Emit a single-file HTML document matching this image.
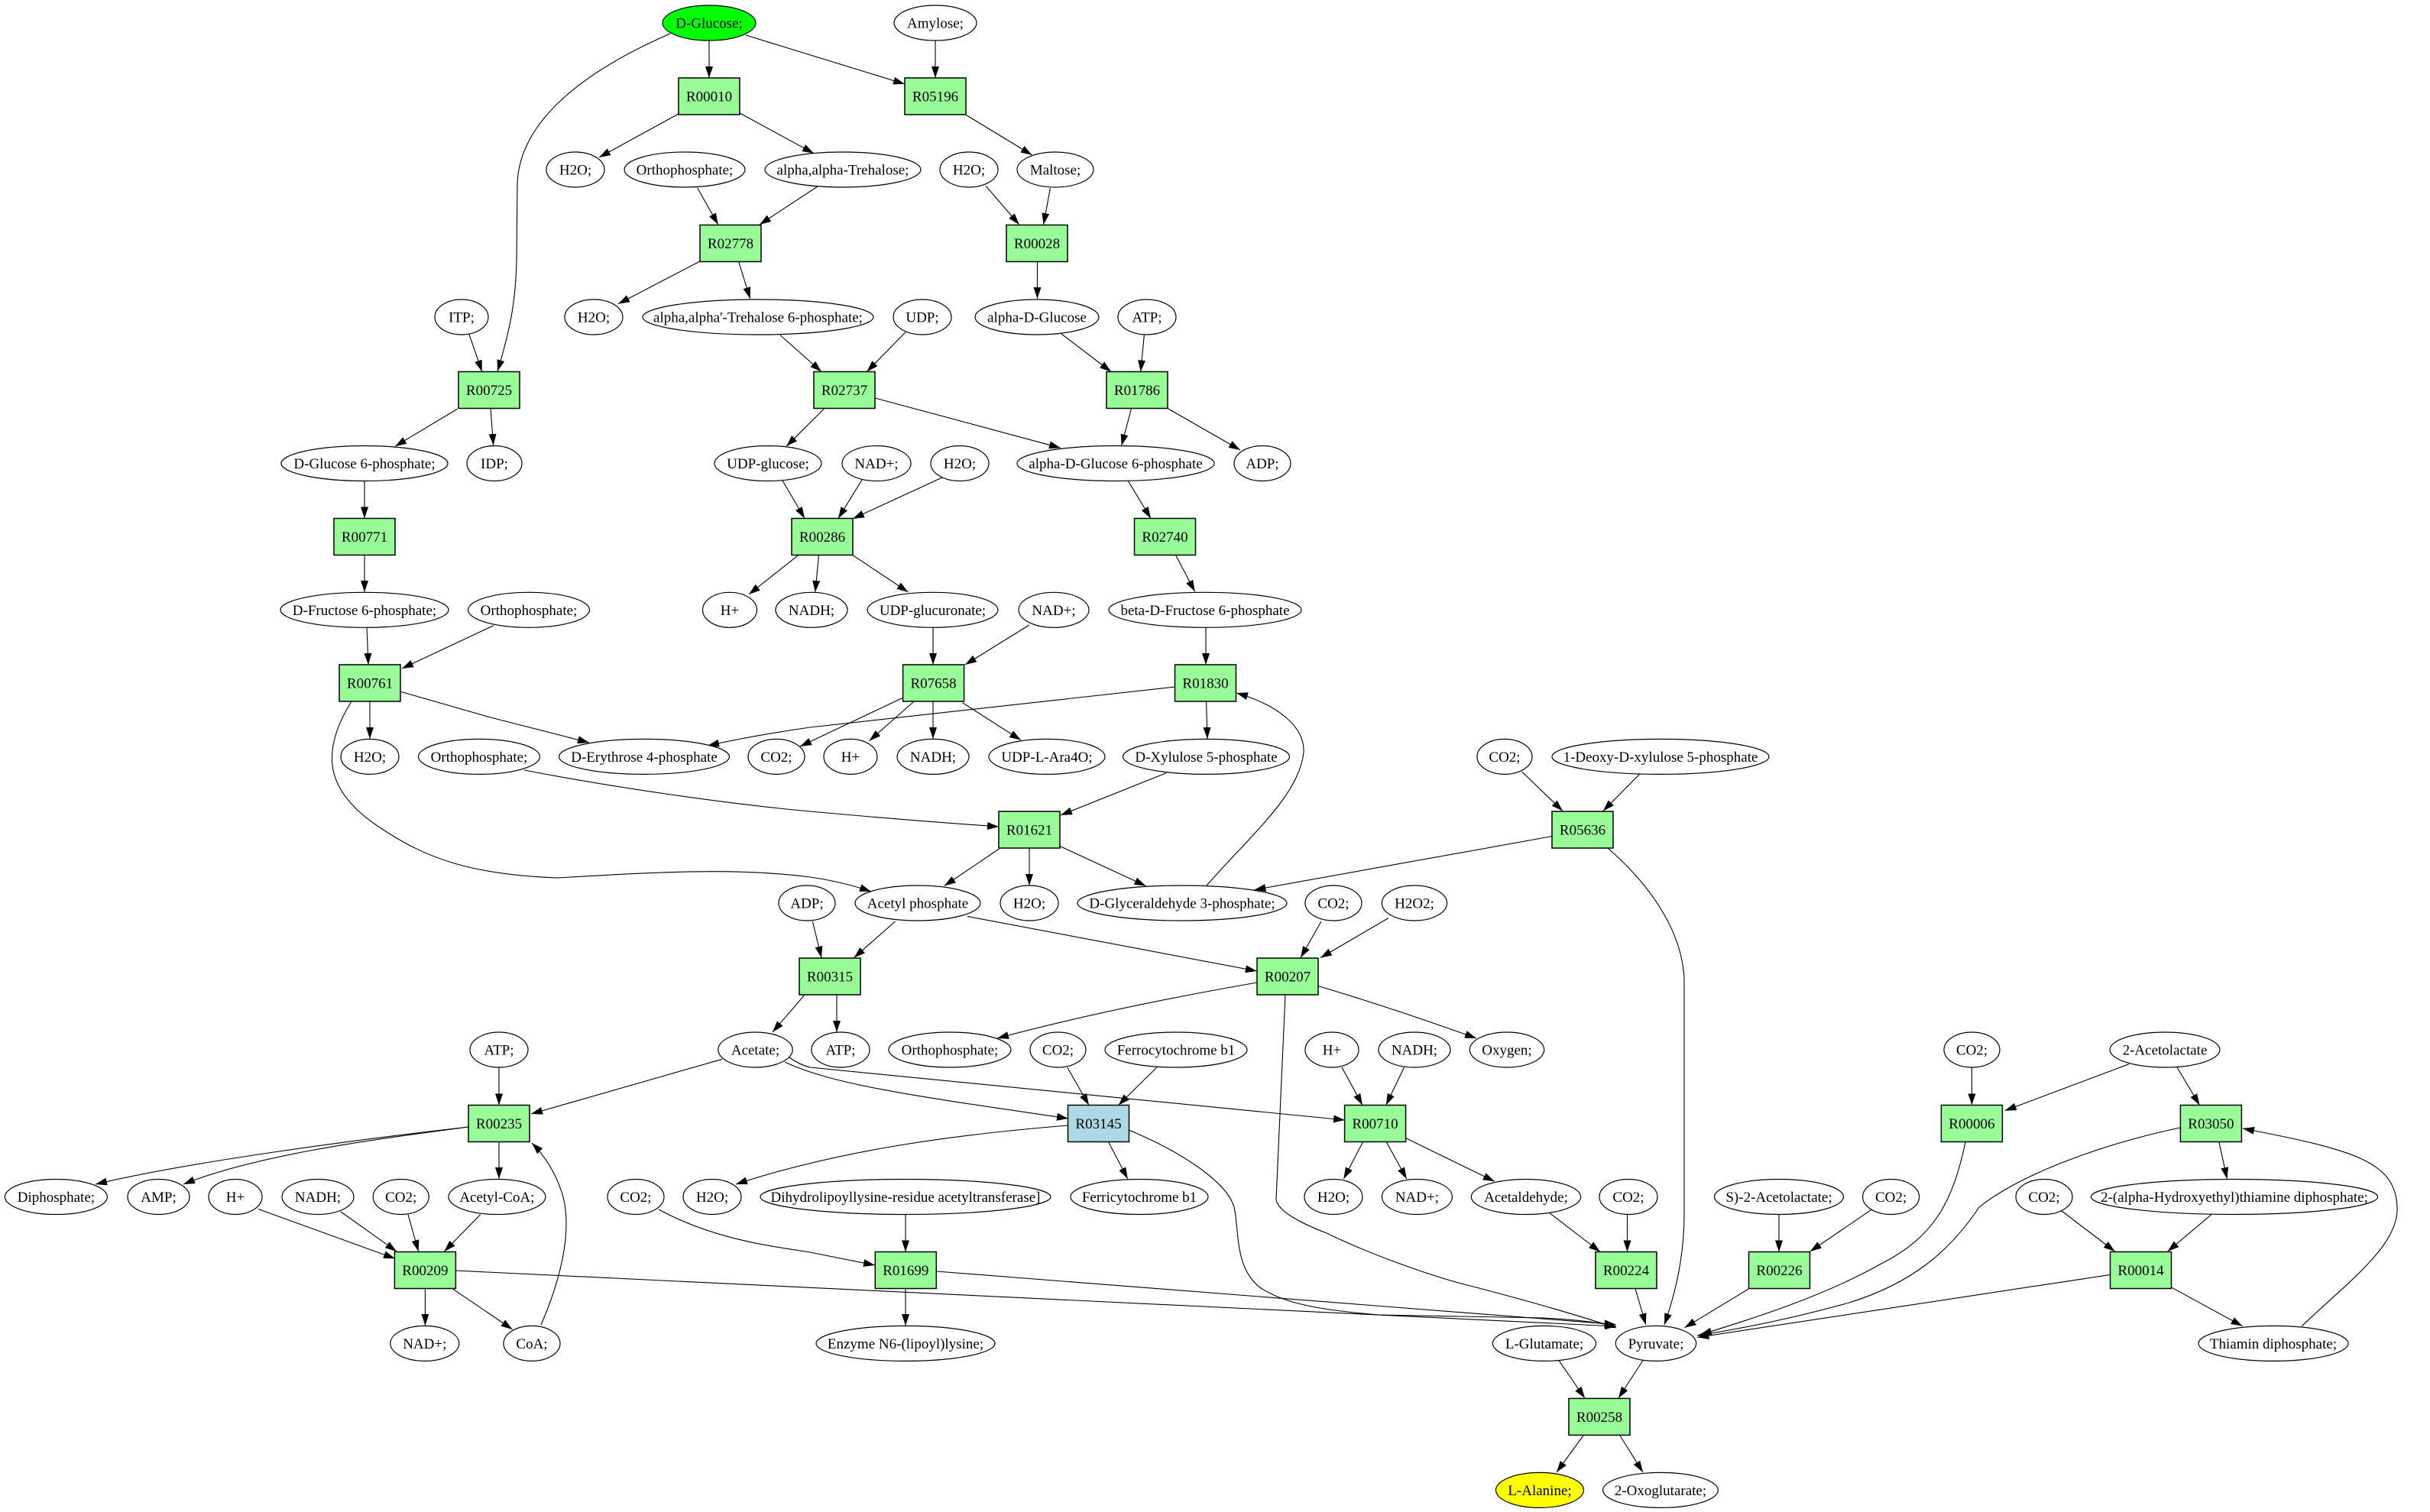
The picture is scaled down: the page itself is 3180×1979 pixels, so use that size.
<!DOCTYPE html>
<html><head><meta charset="utf-8"><style>
html,body{margin:0;padding:0;background:#fff;}
svg{display:block;}
.e{fill:none;stroke:#000;stroke-width:1.1;}
.n{fill:#fff;stroke:#000;stroke-width:1.2;}
.b{fill:#98fb98;stroke:#000;stroke-width:1.5;}
text{font-family:"Liberation Serif","Times New Roman",serif;font-size:19px;text-anchor:middle;fill:#000;}
</style></head><body>
<svg width="3180" height="1979" viewBox="0 0 3180 1979" xmlns="http://www.w3.org/2000/svg">
<defs><marker id="a" markerWidth="15" markerHeight="10" refX="15" refY="5" orient="auto" markerUnits="userSpaceOnUse"><path d="M0,0 L15,5 L0,10 z" fill="#000"/></marker></defs>
<g class="e" marker-end="url(#a)">
<path d="M928,53 L928,102"/>
<path d="M976,46 L1184,110"/>
<path d="M877,44 C760,95 680,160 677,240 L676,340 C675,400 665,440 651,486"/>
<path d="M1224,53 L1224,102"/>
<path d="M888,149 L784,206"/>
<path d="M968,148 L1065,200.7"/>
<path d="M912.7,246 L939.8,294"/>
<path d="M1070,244 L994,294"/>
<path d="M1264,150.3 L1350.7,203"/>
<path d="M1290,243.3 L1333.8,294"/>
<path d="M1374.4,246.2 L1365.6,294"/>
<path d="M916,342 L809,397.7"/>
<path d="M966.8,343 L981.7,391"/>
<path d="M1357.5,342.6 L1357.5,391"/>
<path d="M614,437.7 L630.8,486.5"/>
<path d="M1021,438.6 L1075,486.5"/>
<path d="M1185,434.8 L1134.4,486.5"/>
<path d="M1389,437 L1454,486.5"/>
<path d="M1497.4,437.7 L1492.7,486.5"/>
<path d="M598.3,535.4 L517,584.2"/>
<path d="M642,534.5 L645.7,583"/>
<path d="M1079,534.5 L1029,584.2"/>
<path d="M1145,521 L1388,586.3"/>
<path d="M1480.5,534.5 L1467.7,583.4"/>
<path d="M1528,534.5 L1623,589"/>
<path d="M477,629.5 L477,678.5"/>
<path d="M1024,629 L1053,678.5"/>
<path d="M1128,628 L1097,678.5"/>
<path d="M1233,625 L1116,679"/>
<path d="M1476,629 L1506,678.5"/>
<path d="M477,726.3 L477,775"/>
<path d="M480,821 L482,870"/>
<path d="M646,818.7 L526,875"/>
<path d="M1044.6,726.7 L980,778"/>
<path d="M1071.5,726.7 L1066.8,775"/>
<path d="M1116,726.7 L1188.5,775"/>
<path d="M1538.7,726.7 L1563.7,774.4"/>
<path d="M1221,821.5 L1221,870"/>
<path d="M1347,818 L1263,870"/>
<path d="M1578,821.5 L1578,870"/>
<path d="M484,918 L484,967"/>
<path d="M524.6,905.4 L642,939 L771,972"/>
<path d="M460,918 C415,990 430,1040 500,1085 C560,1125 620,1145 730,1149 C850,1142 960,1135 1060,1148 C1095,1153 1120,1160 1140,1167"/>
<path d="M1182,913 L1047,977"/>
<path d="M1538,899 L1060,952 Q990,962 926,976"/>
<path d="M1195,919 L1137.7,969.6"/>
<path d="M1221,918 L1221,967"/>
<path d="M1259.5,919.7 L1336,968.7"/>
<path d="M1578.6,918 L1580,967"/>
<path d="M1526.5,1011.6 L1388,1067"/>
<path d="M686,1008 C800,1030 950,1052 1060,1062 S1250,1078 1307,1082"/>
<path d="M1579,1159 C1640,1090 1700,1040 1706,985 C1708,950 1670,922 1618,907"/>
<path d="M1307.5,1111 L1235.8,1159.5"/>
<path d="M1347,1110 L1347,1159"/>
<path d="M1387,1107.5 L1499.5,1159.5"/>
<path d="M2031.5,1094.5 L1641.4,1164.7"/>
<path d="M1991.6,1010 L2045,1061.5"/>
<path d="M2146,1013 L2097.8,1061.5"/>
<path d="M2104,1110 C2150,1150 2200,1210 2204,1280 L2204,1590 C2204,1650 2190,1700 2178,1734"/>
<path d="M1171.5,1206 L1117.5,1253.6"/>
<path d="M1063.4,1206 L1075,1253.6"/>
<path d="M1266,1199.4 L1644.8,1271"/>
<path d="M1729,1206 L1702,1253.6"/>
<path d="M1817,1201.6 L1728,1253.6"/>
<path d="M1645,1286 Q1450,1320 1305,1359"/>
<path d="M1725,1290.5 Q1830,1322 1932,1359"/>
<path d="M1682,1302 L1670,1570 C1672,1585 1700,1600 1736,1614 C1800,1645 1880,1672 1920,1682 C1990,1700 2060,1720 2115,1738"/>
<path d="M1053,1302 L1011,1351"/>
<path d="M1095,1302 L1095,1351"/>
<path d="M945,1386.3 L695,1458"/>
<path d="M1027,1390 C1090,1420 1200,1435 1398,1464"/>
<path d="M1033,1384 Q1045,1393 1060,1397 L1760,1466"/>
<path d="M1396.7,1397 L1425,1446.5"/>
<path d="M1514,1397 L1463.6,1446.5"/>
<path d="M1756,1397 L1783,1446.5"/>
<path d="M1837.5,1397 L1813.8,1446.5"/>
<path d="M653,1397 L653,1446.5"/>
<path d="M613,1475 C480,1490 250,1520 125,1550"/>
<path d="M613,1475 C500,1490 340,1510 240,1550"/>
<path d="M653,1494.5 L653,1543"/>
<path d="M708,1734 C740,1660 748,1600 735,1560 C725,1530 710,1510 696,1496"/>
<path d="M338,1582.5 L517,1647.3"/>
<path d="M446,1586 L519,1638"/>
<path d="M534,1589.6 L547.6,1638"/>
<path d="M628.7,1589.6 L581.4,1638"/>
<path d="M556.4,1686.5 L556.4,1735"/>
<path d="M593,1687.3 L670.6,1740"/>
<path d="M596,1663 L2115,1736"/>
<path d="M862,1583 C930,1620 1000,1630 1060,1639 L1145,1656"/>
<path d="M1185,1590 L1185,1638.5"/>
<path d="M1185,1686.5 L1185,1735"/>
<path d="M1225.6,1664 L2114.6,1733.6"/>
<path d="M1398,1473 C1250,1485 1100,1505 963,1550"/>
<path d="M1450.8,1495 L1475.8,1543"/>
<path d="M1477,1479 C1540,1505 1605,1545 1615,1580 C1622,1610 1615,1660 1650,1686 C1680,1705 1720,1714 1804,1721 L2020,1725 Q2080,1728 2115,1736"/>
<path d="M1783.4,1495 L1758.4,1543"/>
<path d="M1814.5,1495 L1840.8,1543"/>
<path d="M1839.5,1489.5 L1955.8,1546.3"/>
<path d="M2026.7,1586.7 L2094,1638.5"/>
<path d="M2129.5,1590 L2129.5,1638.5"/>
<path d="M2140,1686.5 L2153.8,1734"/>
<path d="M2328,1590 L2328,1638.5"/>
<path d="M2449,1583.3 L2368.8,1638"/>
<path d="M2289,1686.5 L2204.5,1737.8"/>
<path d="M2580.4,1397 L2580.4,1446.5"/>
<path d="M2786,1392.7 L2623.7,1453.7"/>
<path d="M2849,1397 L2878.5,1446.5"/>
<path d="M2572,1495 C2555,1575 2530,1620 2460,1655 C2380,1700 2280,1730 2225,1747"/>
<path d="M2853,1476 C2740,1500 2640,1540 2590,1580 C2550,1640 2500,1680 2420,1705 C2330,1730 2260,1742 2221,1748"/>
<path d="M2761.6,1668.4 L2221.4,1750.4"/>
<path d="M2842,1685.2 L2934.6,1735.7"/>
<path d="M3012,1736 C3070,1680 3140,1630 3137,1580 C3135,1520 3080,1505 2935,1477"/>
<path d="M2904,1495 L2914.4,1543"/>
<path d="M2698,1585 L2767.7,1638"/>
<path d="M2894,1589.6 L2836.6,1638"/>
<path d="M2040,1780.7 L2074,1830"/>
<path d="M2150.4,1780 L2118,1830"/>
<path d="M2072,1879 L2037,1927"/>
<path d="M2120,1879 L2150,1927"/>
</g>
<g class="n">
<ellipse cx="928" cy="30" rx="61" ry="23" style="fill:#00ff00"/>
<ellipse cx="1224" cy="30" rx="54" ry="23"/>
<ellipse cx="753" cy="222" rx="38" ry="23"/>
<ellipse cx="896" cy="222" rx="79" ry="23"/>
<ellipse cx="1103" cy="222" rx="102" ry="23"/>
<ellipse cx="1268" cy="222" rx="38" ry="23"/>
<ellipse cx="1381" cy="222" rx="50" ry="23"/>
<ellipse cx="604" cy="415" rx="35" ry="23"/>
<ellipse cx="777" cy="415" rx="38" ry="23"/>
<ellipse cx="992" cy="415" rx="151" ry="23"/>
<ellipse cx="1207" cy="415" rx="38" ry="23"/>
<ellipse cx="1357" cy="415" rx="81" ry="23"/>
<ellipse cx="1501" cy="415" rx="38" ry="23"/>
<ellipse cx="477" cy="606.5" rx="109" ry="23"/>
<ellipse cx="647" cy="606.5" rx="36" ry="23"/>
<ellipse cx="1005" cy="606.5" rx="70" ry="23"/>
<ellipse cx="1147" cy="606.5" rx="45" ry="23"/>
<ellipse cx="1256" cy="606.5" rx="38" ry="23"/>
<ellipse cx="1460" cy="606.5" rx="129" ry="23"/>
<ellipse cx="1652" cy="606.5" rx="37" ry="23"/>
<ellipse cx="477" cy="798.3" rx="110" ry="23"/>
<ellipse cx="692" cy="798.3" rx="79.5" ry="23"/>
<ellipse cx="955" cy="798.3" rx="35.5" ry="23"/>
<ellipse cx="1062" cy="798.3" rx="47" ry="23"/>
<ellipse cx="1220.5" cy="798.3" rx="85.5" ry="23"/>
<ellipse cx="1379" cy="798.3" rx="46" ry="23"/>
<ellipse cx="1577" cy="798.3" rx="126" ry="23"/>
<ellipse cx="484" cy="990.4" rx="38" ry="23"/>
<ellipse cx="627" cy="990.4" rx="79.5" ry="23"/>
<ellipse cx="843" cy="990.4" rx="111.5" ry="23"/>
<ellipse cx="1016" cy="990.4" rx="37" ry="23"/>
<ellipse cx="1113" cy="990.4" rx="35" ry="23"/>
<ellipse cx="1221" cy="990.4" rx="47" ry="23"/>
<ellipse cx="1370" cy="990.4" rx="76" ry="23"/>
<ellipse cx="1578.5" cy="990.4" rx="109" ry="23"/>
<ellipse cx="1969" cy="990.4" rx="36" ry="23"/>
<ellipse cx="2173" cy="990.4" rx="142" ry="23"/>
<ellipse cx="1056" cy="1182" rx="37" ry="23"/>
<ellipse cx="1201" cy="1182" rx="82" ry="23"/>
<ellipse cx="1347" cy="1182" rx="38" ry="23"/>
<ellipse cx="1547" cy="1182" rx="137" ry="23"/>
<ellipse cx="1745" cy="1182" rx="37" ry="23"/>
<ellipse cx="1851" cy="1182" rx="42.6" ry="23"/>
<ellipse cx="653" cy="1374" rx="38" ry="23"/>
<ellipse cx="988.5" cy="1374" rx="48.7" ry="23"/>
<ellipse cx="1100" cy="1374" rx="38" ry="23"/>
<ellipse cx="1243" cy="1374" rx="80" ry="23"/>
<ellipse cx="1384.5" cy="1374" rx="36.5" ry="23"/>
<ellipse cx="1539" cy="1374" rx="93" ry="23"/>
<ellipse cx="1743" cy="1374" rx="35" ry="23"/>
<ellipse cx="1851" cy="1374" rx="47" ry="23"/>
<ellipse cx="1972" cy="1374" rx="48.7" ry="23"/>
<ellipse cx="2580.5" cy="1374" rx="36.5" ry="23"/>
<ellipse cx="2833" cy="1374" rx="72" ry="23"/>
<ellipse cx="73.4" cy="1566.5" rx="67" ry="23"/>
<ellipse cx="207.5" cy="1566.5" rx="40.5" ry="23"/>
<ellipse cx="308" cy="1566.5" rx="35" ry="23"/>
<ellipse cx="416" cy="1566.5" rx="47" ry="23"/>
<ellipse cx="524.7" cy="1566.5" rx="36.5" ry="23"/>
<ellipse cx="650.4" cy="1566.5" rx="63.5" ry="23"/>
<ellipse cx="832" cy="1566.5" rx="37" ry="23"/>
<ellipse cx="932" cy="1566.5" rx="38" ry="23"/>
<ellipse cx="1185" cy="1566.5" rx="190" ry="23"/>
<ellipse cx="1491" cy="1566.5" rx="90" ry="23"/>
<ellipse cx="1745" cy="1566.5" rx="38" ry="23"/>
<ellipse cx="1854.4" cy="1566.5" rx="46" ry="23"/>
<ellipse cx="1997" cy="1566.5" rx="71.7" ry="23"/>
<ellipse cx="2131" cy="1566.5" rx="38" ry="23"/>
<ellipse cx="2328" cy="1566.5" rx="84.5" ry="23"/>
<ellipse cx="2474.6" cy="1566.5" rx="37" ry="23"/>
<ellipse cx="2675" cy="1566.5" rx="37" ry="23"/>
<ellipse cx="2924" cy="1566.5" rx="187.6" ry="23"/>
<ellipse cx="555.8" cy="1758.4" rx="45" ry="23"/>
<ellipse cx="696" cy="1758.4" rx="37" ry="23"/>
<ellipse cx="1185" cy="1758.4" rx="117" ry="23"/>
<ellipse cx="2021" cy="1758.4" rx="67.6" ry="23"/>
<ellipse cx="2167" cy="1758.4" rx="52.7" ry="23"/>
<ellipse cx="2975" cy="1758.4" rx="98" ry="23"/>
<ellipse cx="2015" cy="1950.4" rx="57.5" ry="23" style="fill:#ffff00"/>
<ellipse cx="2173" cy="1950.4" rx="75.4" ry="23"/>
</g>
<g class="b">
<rect x="888" y="102" width="80" height="48"/>
<rect x="1184" y="102" width="80" height="48"/>
<rect x="916" y="294.5" width="80" height="48"/>
<rect x="1317" y="294.5" width="80" height="48"/>
<rect x="600" y="486.5" width="80" height="48"/>
<rect x="1065" y="486.5" width="80" height="48"/>
<rect x="1448" y="486.5" width="80" height="48"/>
<rect x="437" y="678.5" width="80" height="48"/>
<rect x="1036" y="678.5" width="80" height="48"/>
<rect x="1484.5" y="678.5" width="80" height="48"/>
<rect x="444" y="870" width="80" height="48"/>
<rect x="1181.6" y="870" width="80" height="48"/>
<rect x="1537.5" y="870" width="80" height="48"/>
<rect x="1307" y="1062" width="80" height="48"/>
<rect x="2031" y="1062" width="80" height="48"/>
<rect x="1046" y="1254" width="80" height="48"/>
<rect x="1645" y="1254" width="80" height="48"/>
<rect x="613" y="1446.5" width="80" height="48"/>
<rect x="1397.5" y="1446.5" width="80" height="48" style="fill:#add8e6"/>
<rect x="1759.6" y="1446.5" width="80" height="48"/>
<rect x="2540.4" y="1446.5" width="80" height="48"/>
<rect x="2853.4" y="1446.5" width="80" height="48"/>
<rect x="516.4" y="1638.5" width="80" height="48"/>
<rect x="1145.3" y="1638.5" width="80" height="48"/>
<rect x="2088" y="1638.5" width="80" height="48"/>
<rect x="2288.5" y="1638.5" width="80" height="48"/>
<rect x="2761.5" y="1638.5" width="80" height="48"/>
<rect x="2053" y="1830.4" width="80" height="48"/>
</g>
<g>
<text x="928" y="36.5">D-Glucose;</text>
<text x="1224" y="36.5">Amylose;</text>
<text x="753" y="228.5">H2O;</text>
<text x="896" y="228.5">Orthophosphate;</text>
<text x="1103" y="228.5">alpha,alpha-Trehalose;</text>
<text x="1268" y="228.5">H2O;</text>
<text x="1381" y="228.5">Maltose;</text>
<text x="604" y="421.5">ITP;</text>
<text x="777" y="421.5">H2O;</text>
<text x="992" y="421.5">alpha,alpha'-Trehalose 6-phosphate;</text>
<text x="1207" y="421.5">UDP;</text>
<text x="1357" y="421.5">alpha-D-Glucose</text>
<text x="1501" y="421.5">ATP;</text>
<text x="477" y="613">D-Glucose 6-phosphate;</text>
<text x="647" y="613">IDP;</text>
<text x="1005" y="613">UDP-glucose;</text>
<text x="1147" y="613">NAD+;</text>
<text x="1256" y="613">H2O;</text>
<text x="1460" y="613">alpha-D-Glucose 6-phosphate</text>
<text x="1652" y="613">ADP;</text>
<text x="477" y="804.8">D-Fructose 6-phosphate;</text>
<text x="692" y="804.8">Orthophosphate;</text>
<text x="955" y="804.8">H+</text>
<text x="1062" y="804.8">NADH;</text>
<text x="1220.5" y="804.8">UDP-glucuronate;</text>
<text x="1379" y="804.8">NAD+;</text>
<text x="1577" y="804.8">beta-D-Fructose 6-phosphate</text>
<text x="484" y="996.9">H2O;</text>
<text x="627" y="996.9">Orthophosphate;</text>
<text x="843" y="996.9">D-Erythrose 4-phosphate</text>
<text x="1016" y="996.9">CO2;</text>
<text x="1113" y="996.9">H+</text>
<text x="1221" y="996.9">NADH;</text>
<text x="1370" y="996.9">UDP-L-Ara4O;</text>
<text x="1578.5" y="996.9">D-Xylulose 5-phosphate</text>
<text x="1969" y="996.9">CO2;</text>
<text x="2173" y="996.9">1-Deoxy-D-xylulose 5-phosphate</text>
<text x="1056" y="1188.5">ADP;</text>
<text x="1201" y="1188.5">Acetyl phosphate</text>
<text x="1347" y="1188.5">H2O;</text>
<text x="1547" y="1188.5">D-Glyceraldehyde 3-phosphate;</text>
<text x="1745" y="1188.5">CO2;</text>
<text x="1851" y="1188.5">H2O2;</text>
<text x="653" y="1380.5">ATP;</text>
<text x="988.5" y="1380.5">Acetate;</text>
<text x="1100" y="1380.5">ATP;</text>
<text x="1243" y="1380.5">Orthophosphate;</text>
<text x="1384.5" y="1380.5">CO2;</text>
<text x="1539" y="1380.5">Ferrocytochrome b1</text>
<text x="1743" y="1380.5">H+</text>
<text x="1851" y="1380.5">NADH;</text>
<text x="1972" y="1380.5">Oxygen;</text>
<text x="2580.5" y="1380.5">CO2;</text>
<text x="2833" y="1380.5">2-Acetolactate</text>
<text x="73.4" y="1573">Diphosphate;</text>
<text x="207.5" y="1573">AMP;</text>
<text x="308" y="1573">H+</text>
<text x="416" y="1573">NADH;</text>
<text x="524.7" y="1573">CO2;</text>
<text x="650.4" y="1573">Acetyl-CoA;</text>
<text x="832" y="1573">CO2;</text>
<text x="932" y="1573">H2O;</text>
<text x="1185" y="1573">Dihydrolipoyllysine-residue acetyltransferase]</text>
<text x="1491" y="1573">Ferricytochrome b1</text>
<text x="1745" y="1573">H2O;</text>
<text x="1854.4" y="1573">NAD+;</text>
<text x="1997" y="1573">Acetaldehyde;</text>
<text x="2131" y="1573">CO2;</text>
<text x="2328" y="1573">S)-2-Acetolactate;</text>
<text x="2474.6" y="1573">CO2;</text>
<text x="2675" y="1573">CO2;</text>
<text x="2924" y="1573">2-(alpha-Hydroxyethyl)thiamine diphosphate;</text>
<text x="555.8" y="1764.9">NAD+;</text>
<text x="696" y="1764.9">CoA;</text>
<text x="1185" y="1764.9">Enzyme N6-(lipoyl)lysine;</text>
<text x="2021" y="1764.9">L-Glutamate;</text>
<text x="2167" y="1764.9">Pyruvate;</text>
<text x="2975" y="1764.9">Thiamin diphosphate;</text>
<text x="2015" y="1956.9">L-Alanine;</text>
<text x="2173" y="1956.9">2-Oxoglutarate;</text>
<text x="928" y="132.5">R00010</text>
<text x="1224" y="132.5">R05196</text>
<text x="956" y="325">R02778</text>
<text x="1357" y="325">R00028</text>
<text x="640" y="517">R00725</text>
<text x="1105" y="517">R02737</text>
<text x="1488" y="517">R01786</text>
<text x="477" y="709">R00771</text>
<text x="1076" y="709">R00286</text>
<text x="1524.5" y="709">R02740</text>
<text x="484" y="900.5">R00761</text>
<text x="1221.6" y="900.5">R07658</text>
<text x="1577.5" y="900.5">R01830</text>
<text x="1347" y="1092.5">R01621</text>
<text x="2071" y="1092.5">R05636</text>
<text x="1086" y="1284.5">R00315</text>
<text x="1685" y="1284.5">R00207</text>
<text x="653" y="1477">R00235</text>
<text x="1437.5" y="1477">R03145</text>
<text x="1799.6" y="1477">R00710</text>
<text x="2580.4" y="1477">R00006</text>
<text x="2893.4" y="1477">R03050</text>
<text x="556.4" y="1669">R00209</text>
<text x="1185.3" y="1669">R01699</text>
<text x="2128" y="1669">R00224</text>
<text x="2328.5" y="1669">R00226</text>
<text x="2801.5" y="1669">R00014</text>
<text x="2093" y="1861">R00258</text>
</g>
</svg>
</body></html>
